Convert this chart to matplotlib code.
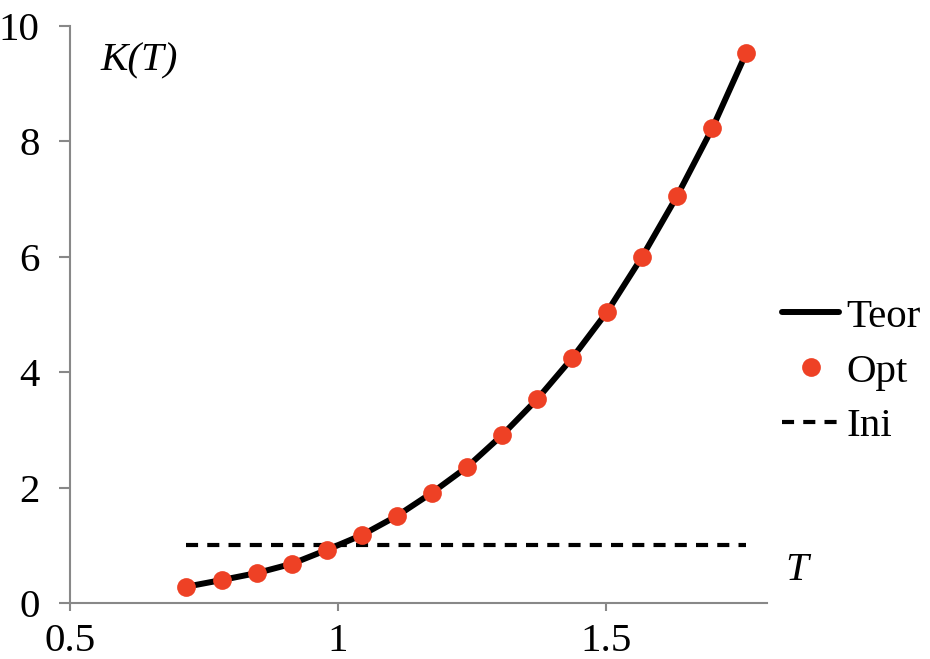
import matplotlib
matplotlib.use("Agg")
import matplotlib.pyplot as plt

plt.rcParams['font.family'] = ['Liberation Serif', 'DejaVu Serif']

T = [0.716, 0.784, 0.849, 0.914, 0.979, 1.045, 1.110, 1.175, 1.241,
     1.306, 1.371, 1.437, 1.502, 1.567, 1.632, 1.698, 1.761]
K_opt = [0.28, 0.40, 0.52, 0.68, 0.92, 1.18, 1.51, 1.91, 2.36,
         2.91, 3.53, 4.25, 5.05, 6.00, 7.05, 8.23, 9.53]
K_teor = K_opt
K_ini = [1.0] * len(T)

xticks = [0.5, 1, 1.5]
xticklabels = ["0.5", "1", "1.5"]
yticks = [0, 2, 4, 6, 8, 10]

FS = 29.5

fig = plt.figure(figsize=(9.3, 6.59), dpi=100)
ax = fig.add_axes([0.0753, 0.085, 0.7495, 0.8756])

ax.plot(T, K_teor, color='black', lw=4.3, label='Teor', solid_capstyle='round', zorder=2)
ax.plot(T, K_opt, 'o', color='#EE4125', ms=13.5, mec='none', label='Opt', zorder=3)
ax.plot(T, K_ini, color='black', lw=3, dashes=(2.9, 2.2), label='Ini', zorder=1)

ax.set_xlim(0.5, 1.8)
ax.set_ylim(0, 10)
ax.set_xticks(xticks)
ax.set_xticklabels(xticklabels)
ax.set_yticks(yticks)
for s in ['top', 'right']:
    ax.spines[s].set_visible(False)
for s in ['left', 'bottom']:
    ax.spines[s].set_color('#888888')
    ax.spines[s].set_linewidth(1.5)
ax.tick_params(axis='both', colors='#888888', labelcolor='black', labelsize=FS, width=1.5)
ax.tick_params(axis='y', length=8, pad=14)
ax.tick_params(axis='x', length=6, pad=8.5)

ax.text(0.556, 9.72, 'K(T)', fontsize=FS, style='italic', va='top', ha='left')
ax.text(1.834, 0.4, 'T', fontsize=FS, style='italic', va='baseline', ha='left', clip_on=False)

fig.legend(loc='center left', bbox_to_anchor=(0.841, 0.436), frameon=False, fontsize=FS,
           handlelength=1.39, handletextpad=0.17, labelspacing=0.42, borderaxespad=0,
           borderpad=0)

fig.savefig('out.png', dpi=100)
